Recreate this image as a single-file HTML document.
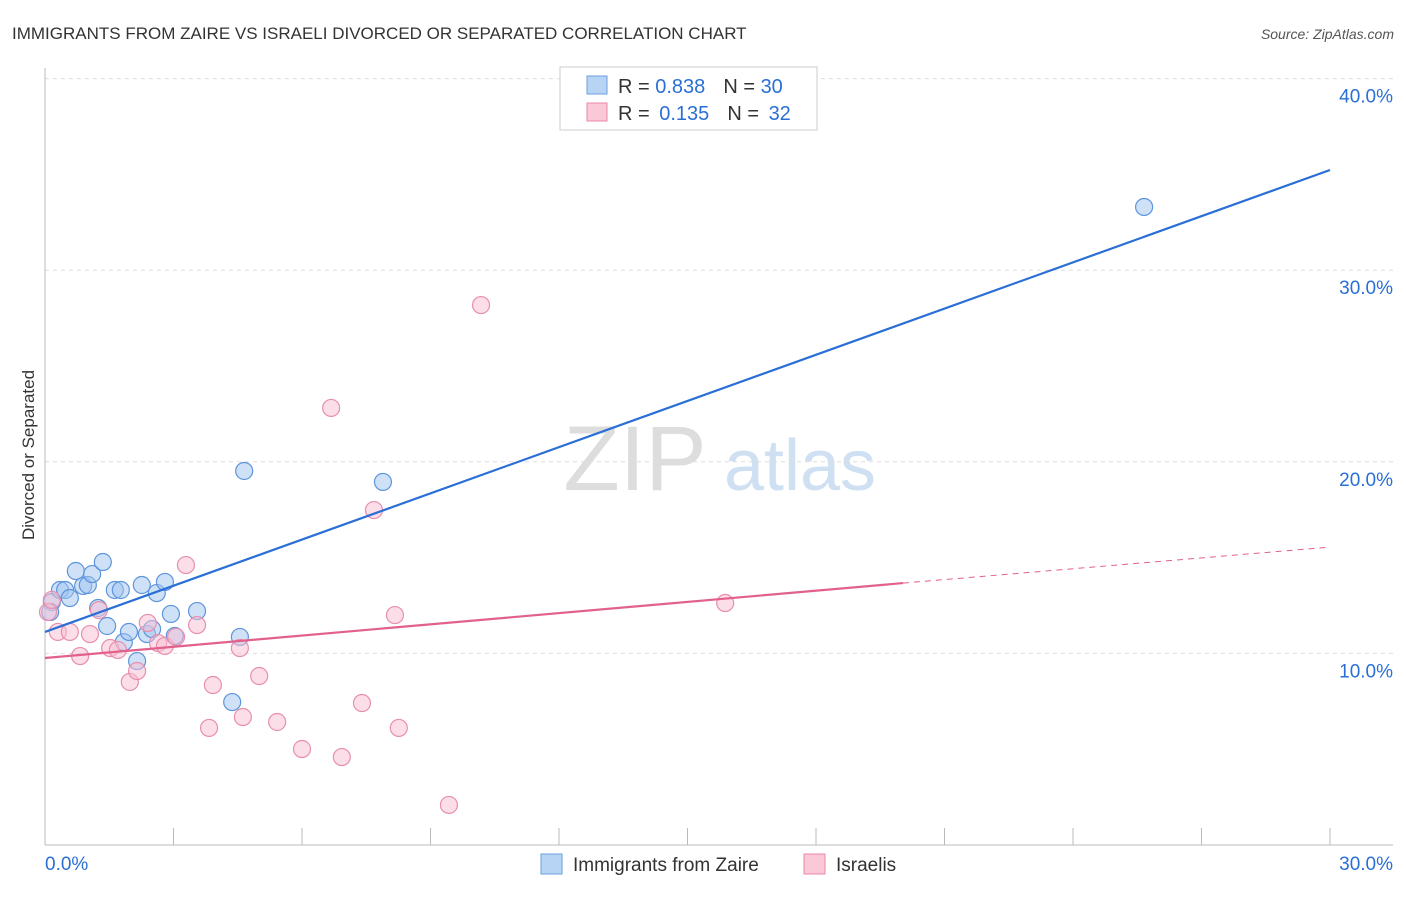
<!DOCTYPE html>
<html><head><meta charset="utf-8"><style>
body{margin:0;background:#fff;font-family:"Liberation Sans",sans-serif}
svg text{font-family:"Liberation Sans",sans-serif}
</style></head><body>
<svg id="chart" width="1406" height="892">
<text x="12" y="39" font-size="17" fill="#333">IMMIGRANTS FROM ZAIRE VS ISRAELI DIVORCED OR SEPARATED CORRELATION CHART</text>
<text x="1394" y="39" font-size="14" fill="#555" font-style="italic" text-anchor="end">Source: ZipAtlas.com</text>
<text x="34" y="455" font-size="17" fill="#333" transform="rotate(-90 34 455)" text-anchor="middle">Divorced or Separated</text>
<g><text x="635" y="490" font-size="92" fill="#ddd" font-family="Liberation Serif" text-anchor="middle">ZIP</text><text x="800" y="490" font-size="72" fill="#cfe0f3" text-anchor="middle">atlas</text></g>
<g id="grid"></g><g id="axes"></g><g id="marks"></g>
<g>
<rect x="560" y="67" width="257" height="63" fill="#fff" stroke="#ccc"/>
<rect x="587" y="76" width="20" height="18" fill="#b8d4f5" stroke="#6a9fdf"/>
<rect x="587" y="103" width="20" height="18" fill="#fbc8d8" stroke="#e98aa8"/>
<text x="618" y="93" font-size="20" fill="#333">R = <tspan fill="#2a6fd6">0.838</tspan><tspan dx="18">N = </tspan><tspan fill="#2a6fd6">30</tspan></text>
<text x="618" y="120" font-size="20" fill="#333">R = <tspan fill="#2a6fd6" dx="4">0.135</tspan><tspan dx="18">N = </tspan><tspan fill="#2a6fd6" dx="4">32</tspan></text>
</g>
<g>
<rect x="541" y="854" width="21" height="20" fill="#b8d4f5" stroke="#6a9fdf"/>
<text x="573" y="871" font-size="19" fill="#333">Immigrants from Zaire</text>
<rect x="804" y="854" width="21" height="20" fill="#fbc8d8" stroke="#e98aa8"/>
<text x="836" y="871" font-size="19" fill="#333">Israelis</text>
</g>
</svg>
<script>
const blueX=[0.16,0.35,0.47,0.58,0.72,0.89,1.00,1.10,1.24,1.35,1.45,1.63,1.77,1.84,1.96,2.15,2.26,2.38,2.50,2.61,2.80,2.94,3.03,3.55,4.37,4.55,4.65,7.89,25.66,0.12];
const blueY=[12.68,13.31,13.31,12.89,14.30,13.52,13.57,14.14,12.37,14.77,11.43,13.31,13.31,10.59,11.12,9.60,13.57,11.01,11.27,13.15,13.73,12.06,10.91,12.21,7.46,10.86,19.52,18.95,33.30,12.16];
const pinkX=[0.07,0.16,0.30,0.58,0.82,1.05,1.26,1.52,1.70,1.98,2.15,2.40,2.64,2.80,3.06,3.29,3.55,3.83,3.92,4.55,4.62,5.00,5.42,6.00,6.68,6.93,7.40,7.68,8.17,8.26,9.43,10.18,15.88];
const pinkY=[12.16,12.79,11.12,11.12,9.86,11.01,12.26,10.28,10.18,8.51,9.08,11.59,10.54,10.39,10.86,14.61,11.48,6.11,8.35,10.28,6.68,8.82,6.42,5.01,22.81,4.59,7.41,17.48,12.00,6.11,2.09,28.18,12.63];
const blueLine=[11.12,35.23];
const pinkLine=[9.76,13.67,15.55];
const pinkSolidEnd=20.03;
const yTicks=[10,20,30,40];
const yTickLabels=["10.0%","20.0%","30.0%","40.0%"];
const xTicks=[0,3,6,9,12,15,18,21,24,27,30];
const NS="http://www.w3.org/2000/svg";
const X=v=>45+v/30*1285, Y=v=>845-v*19.16;
function mk(p,t,a){const e=document.createElementNS(NS,t);for(const k in a)e.setAttribute(k,a[k]);p.appendChild(e);return e;}
const grid=document.getElementById('grid'),axes=document.getElementById('axes'),marks=document.getElementById('marks');
yTicks.forEach((t,i)=>{
 const l=mk(grid,'line',{x1:45,x2:1393,y1:Y(t),y2:Y(t),stroke:'#ddd','stroke-dasharray':'4,4'});
 
 
 const tx=mk(axes,'text',{x:1393,y:Y(t)+24,'font-size':19,fill:'#2a6fd6','text-anchor':'end'});tx.textContent=yTickLabels[i];
 
 
});
const ax=mk(axes,'line',{x1:45,x2:45,y1:68,y2:845,stroke:'#bbb'});


const bx=mk(axes,'line',{x1:45,x2:1393,y1:845,y2:845,stroke:'#bbb'});


xTicks.forEach(t=>{const l=mk(axes,'line',{x1:X(t),x2:X(t),y1:828,y2:845,stroke:'#bbb'});
 
 });
const x0=mk(axes,'text',{x:45,y:870,'font-size':19,fill:'#2a6fd6'});x0.textContent='0.0%';


const x1=mk(axes,'text',{x:1393,y:870,'font-size':19,fill:'#2a6fd6','text-anchor':'end'});x1.textContent='30.0%';


blueX.forEach((v,i)=>{const c=mk(marks,'circle',{cx:X(v),cy:Y(blueY[i]),r:8.5,fill:'rgba(160,196,240,0.5)',stroke:'#5d95dc','stroke-width':1.2});
 
 });
pinkX.forEach((v,i)=>{const c=mk(marks,'circle',{cx:X(v),cy:Y(pinkY[i]),r:8.5,fill:'rgba(250,190,210,0.5)',stroke:'#e88fad','stroke-width':1.2});
 
 });
const bl=mk(marks,'line',{x1:X(0),y1:Y(blueLine[0]),x2:X(30),y2:Y(blueLine[1]),stroke:'#2a6fd6','stroke-width':2.2});


const pl=mk(marks,'line',{x1:X(0),y1:Y(pinkLine[0]),x2:X(pinkSolidEnd),y2:Y(pinkLine[1]),stroke:'#e2608c','stroke-width':2.2});


const pd=mk(marks,'line',{x1:X(pinkSolidEnd),y1:Y(pinkLine[1]),x2:X(30),y2:Y(pinkLine[2]),stroke:'#e2608c','stroke-width':1,'stroke-dasharray':'6,5'});


</script>
</body></html>
